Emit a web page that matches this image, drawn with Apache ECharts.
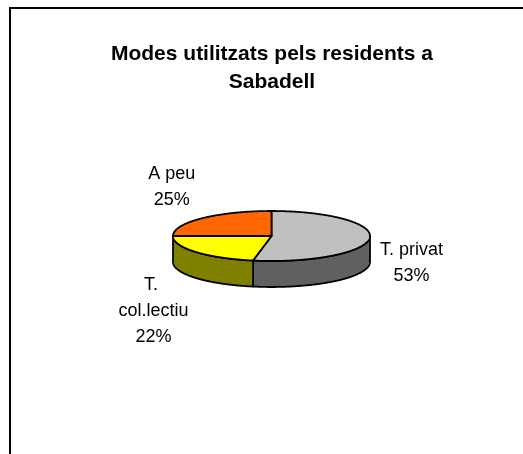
<!DOCTYPE html>
<html>
<head>
<meta charset="utf-8">
<script src="https://cdn.jsdelivr.net/npm/echarts@6/dist/echarts.min.js"></script>
<style>
html,body{margin:0;padding:0;background:#fff;}
#chart{width:523px;height:454px;}
</style>
</head>
<body>
<div id="chart"></div>
<script>
// ---- data ----
const categories = ['T. privat', 'T. col.lectiu', 'A peu'];
const values = [53, 22, 25];
const titleText = 'Modes utilitzats pels residents a\nSabadell';

// ---- styles / layout ----
const topColors = ['#C0C0C0', '#FFFF00', '#FF6600'];
const sideColors = ['#606060', '#808000', '#993D00'];
const PIE = { cx: 271.5, cy: 236, rx: 98.5, ry: 25, depth: 26 };
const labelCenters = [[411.5, 263], [153.5, 311], [171.7, 187.5]];
const FONT = 'Liberation Sans, Arial, sans-serif';

const total = values.reduce((a, b) => a + b, 0);

function pt(t, dy) {
  return [PIE.cx + PIE.rx * Math.sin(t), PIE.cy - PIE.ry * Math.cos(t) + dy];
}
function arc(a, b, dy) {
  const n = Math.max(2, Math.ceil((b - a) / 0.01));
  const out = [];
  for (let k = 0; k <= n; k++) out.push(pt(a + (b - a) * k / n, dy));
  return out;
}

function renderItem(params, api) {
  const i = params.dataIndex;
  const v = api.value(0);
  let before = 0;
  for (let k = 0; k < i; k++) before += values[k];
  const start = before / total * Math.PI * 2;
  const end = (before + v) / total * Math.PI * 2;
  const children = [];
  const s = Math.max(start, Math.PI / 2);
  const e = Math.min(end, Math.PI * 3 / 2);
  if (s < e) {
    const upper = arc(s, e, 0);
    const lower = arc(s, e, PIE.depth).reverse();
    children.push({
      type: 'polygon', z2: 1,
      shape: { points: upper.concat(lower) },
      style: { fill: sideColors[i], stroke: '#000', lineWidth: 1.8, lineJoin: 'round' }
    });
  }
  children.push({
    type: 'polygon', z2: 2,
    shape: { points: [[PIE.cx, PIE.cy]].concat(arc(start, end, 0)) },
    style: { fill: topColors[i], stroke: '#000', lineWidth: 1.8, lineJoin: 'round' }
  });
  const pct = Math.round(v / total * 100);
  children.push({
    type: 'text', z2: 3,
    style: {
      text: categories[i] + '\n' + pct + '%',
      x: labelCenters[i][0], y: labelCenters[i][1],
      align: 'center', verticalAlign: 'middle',
      font: '18px ' + FONT, lineHeight: 26,
      width: 75, overflow: 'break',
      fill: '#000'
    }
  });
  return { type: 'group', children: children };
}

const chart = echarts.init(document.getElementById('chart'), null, { renderer: 'canvas' });
chart.setOption({
  animation: false,
  backgroundColor: '#fff',
  title: {
    text: titleText,
    left: 272, top: 40, padding: 0,
    textAlign: 'center',
    textStyle: { fontFamily: FONT, fontSize: 21, fontWeight: 'bold', color: '#000', lineHeight: 28 }
  },
  graphic: [{
    type: 'rect', silent: true,
    shape: { x: 10, y: 8, width: 800, height: 800 },
    style: { fill: 'none', stroke: '#000', lineWidth: 2 }
  }],
  series: [{
    type: 'custom',
    coordinateSystem: 'none',
    renderItem: renderItem,
    data: values.map(v => [v])
  }]
});
</script>
</body>
</html>
